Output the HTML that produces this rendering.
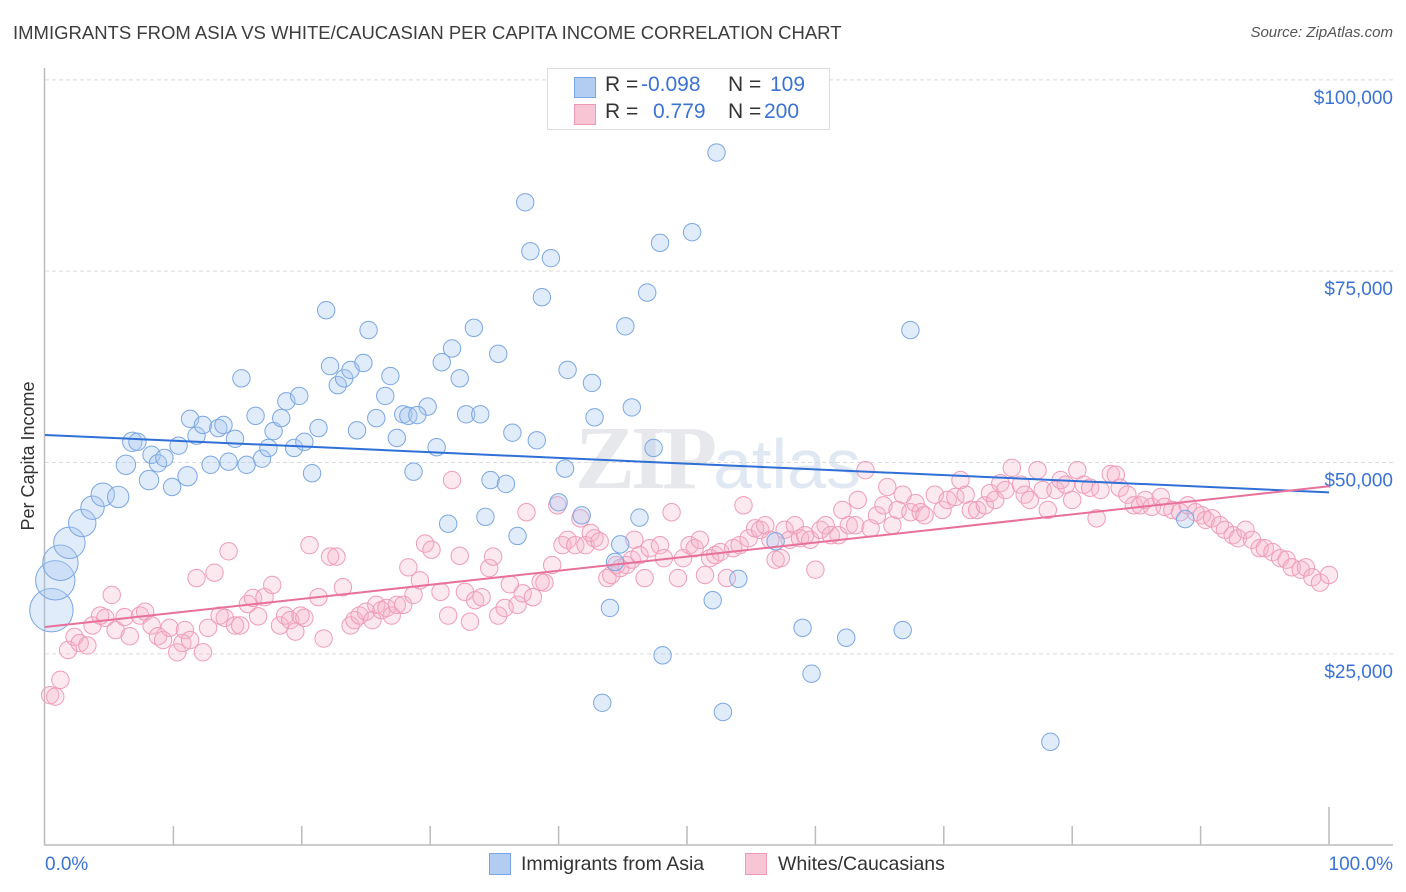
<!DOCTYPE html>
<html><head><meta charset="utf-8">
<style>
body{margin:0;background:#fff;font-family:"Liberation Sans",sans-serif;}
#wrap{position:relative;width:1406px;height:892px;overflow:hidden;}
.t{position:absolute;white-space:nowrap;}
</style></head>
<body>
<div id="wrap">
<div class="t" style="left:13px;top:22px;font-size:18.5px;color:#3d3d3d;">IMMIGRANTS FROM ASIA VS WHITE/CAUCASIAN PER CAPITA INCOME CORRELATION CHART</div>
<div class="t" style="right:13px;top:24px;font-size:15px;color:#555;font-style:italic">Source: ZipAtlas.com</div>
<svg id="svg" width="1406" height="892" style="position:absolute;left:0;top:0"></svg>
</div>
<script>
const yTicks=[25000,50000,75000,100000];
const yTickLabels=["$25,000","$50,000","$75,000","$100,000"];
const xTickLabels=["0.0%","100.0%"];
const blueX=[0.5,0.8,1.2,1.9,2.9,3.7,4.5,5.7,6.3,8.1,6.8,7.2,8.3,8.8,9.3,9.9,11.1,10.4,11.3,11.8,12.3,12.9,13.5,13.9,14.3,14.8,15.3,15.7,16.4,16.9,17.4,17.8,18.4,18.8,19.4,19.8,20.8,21.3,20.2,21.9,22.2,22.8,23.3,23.8,24.3,24.8,25.2,25.8,26.5,26.9,27.4,27.9,28.3,29.8,29.0,30.5,28.7,30.9,31.7,32.3,32.8,33.4,33.9,31.4,34.3,34.7,35.3,35.9,36.4,36.8,37.4,37.8,38.3,38.7,39.4,40.0,40.5,40.7,41.8,42.6,42.8,43.4,44.0,44.4,44.8,45.2,45.7,46.3,46.9,47.4,47.9,48.1,50.4,52.0,52.3,52.8,54.0,56.9,59.0,59.7,62.4,66.8,67.4,78.3,88.8];
const blueY=[30.7,34.6,36.9,39.5,42.1,44.1,45.8,45.5,49.7,47.7,52.7,52.7,51.0,49.9,50.6,46.8,48.2,52.2,55.7,53.5,54.9,49.7,54.5,54.9,50.1,53.1,61.0,49.7,56.1,50.5,51.9,54.1,55.8,58.0,51.9,58.7,48.6,54.5,52.7,69.9,62.6,60.1,61.0,62.1,54.2,63.0,67.3,55.8,58.7,61.3,53.2,56.3,56.1,57.3,56.2,52.0,48.8,63.1,64.9,61.0,56.3,67.6,56.3,42.0,42.9,47.7,64.2,47.2,53.9,40.4,84.0,77.6,52.9,71.6,76.7,44.8,49.2,62.1,43.1,60.4,55.9,18.6,31.0,37.0,39.3,67.8,57.2,42.8,72.2,51.9,78.7,24.8,80.1,32.0,90.5,17.4,34.8,39.7,28.4,22.4,27.1,28.1,67.3,13.5,42.6];
const blueR=[22,20,18,16,14,12,12,11,10,10,10,9,9,9,9,9,10,9,9,9,9,9,9,9,9,9,9,9,9,9,9,9,9,9,9,9,9,9,9,9,9,9,9,9,9,9,9,9,9,9,9,9,9,9,9,9,9,9,9,9,9,9,9,9,9,9,9,9,9,9,9,9,9,9,9,9,9,9,9,9,9,9,9,9,9,9,9,9,9,9,9,9,9,9,9,9,9,9,9,9,9,9,9,9,9];
const pinkX=[0.4,0.8,1.2,1.8,2.3,2.7,3.3,3.7,4.3,4.7,5.2,5.5,6.2,6.6,7.4,7.8,8.3,8.8,9.2,9.7,10.3,10.7,10.9,11.3,11.8,12.3,12.7,13.2,13.6,14.0,14.3,14.8,15.2,15.8,16.2,16.6,17.1,17.7,18.3,18.7,19.1,19.5,19.9,20.2,20.6,21.3,21.7,22.2,22.7,23.2,23.8,24.1,24.5,25.0,25.5,25.8,26.2,26.6,27.0,27.4,27.9,28.3,28.7,29.2,29.6,30.1,30.8,31.4,31.7,32.3,32.7,33.1,33.5,34.0,34.6,34.9,35.3,35.8,36.2,36.8,37.2,37.5,38.0,38.6,38.9,39.5,39.9,40.3,40.7,41.3,41.7,42.1,42.5,42.8,43.2,43.8,44.1,44.5,44.8,45.3,45.7,45.9,46.3,46.7,47.1,47.9,48.2,48.8,49.3,49.7,50.2,50.6,51.0,51.4,51.8,52.2,52.6,53.1,53.6,54.1,54.4,54.8,55.3,55.7,56.1,56.5,56.9,57.3,57.6,58.0,58.4,58.8,59.2,59.6,60.0,60.4,60.8,61.2,61.8,62.1,62.6,63.1,63.3,63.9,64.3,64.8,65.3,65.6,66.0,66.4,66.8,67.4,67.8,68.2,68.5,69.3,69.9,70.3,70.9,71.3,71.7,72.1,72.6,73.2,73.6,74.0,74.4,74.8,75.3,76.0,76.3,76.7,77.3,77.7,78.1,78.7,79.1,79.5,80.0,80.4,80.9,81.4,81.9,82.2,83.0,83.4,83.7,84.3,84.8,85.3,85.7,86.2,86.9,87.2,87.8,88.4,89.0,89.6,90.1,90.4,90.9,91.5,91.9,92.5,92.9,93.5,94.0,94.6,95.0,95.6,96.2,96.7,97.1,97.8,98.2,98.7,99.3,100.0];
const pinkY=[19.6,19.4,21.6,25.5,27.2,26.4,26.1,28.7,30.0,29.7,32.7,28.1,29.8,27.3,30.0,30.5,28.7,27.3,26.8,28.4,25.2,26.4,28.1,26.8,34.9,25.2,28.4,35.6,30.0,29.7,38.4,28.7,28.7,31.5,32.3,29.9,32.4,34.0,28.7,30.0,29.4,27.9,30.0,29.7,39.2,32.4,27.0,37.7,37.7,33.7,28.7,29.4,30.0,30.5,29.4,31.4,30.7,31.0,30.0,31.4,31.4,36.3,32.7,34.6,39.4,38.6,33.1,30.0,47.7,37.8,33.1,29.2,32.0,32.4,36.2,37.7,30.0,31.0,34.1,31.4,32.9,43.5,32.4,34.4,34.3,36.6,44.4,39.2,39.9,39.2,42.7,39.2,40.8,40.1,39.7,34.9,35.3,36.6,36.2,36.6,37.3,39.9,37.9,34.9,38.8,39.2,37.5,43.5,34.9,37.5,39.2,38.8,39.9,35.3,37.5,37.9,38.3,34.9,38.8,39.2,44.4,40.1,41.4,41.2,41.8,39.9,37.3,37.5,41.2,39.9,41.8,40.1,40.5,39.9,36.0,41.2,41.8,40.5,40.5,43.8,41.8,41.8,45.1,49.0,41.4,43.1,44.4,46.8,41.8,43.8,45.8,43.5,44.7,43.5,43.1,45.8,43.8,45.1,45.5,47.7,45.8,43.8,43.8,44.4,46.0,45.1,47.3,46.4,49.3,47.1,45.8,45.1,49.0,46.4,43.8,46.4,47.7,47.1,45.1,49.0,47.1,46.7,42.7,46.4,48.5,48.4,46.7,45.8,44.4,44.4,45.1,44.2,45.5,44.2,43.8,43.5,44.4,43.5,43.1,42.5,42.7,41.8,41.2,40.5,40.1,41.2,39.9,38.8,38.8,38.3,37.5,37.3,36.3,36.0,36.3,35.0,34.3,35.3];
const trendBlue=[53.6,46.1];
const trendPink=[28.5,46.9];

const NS="http://www.w3.org/2000/svg";
const svg=document.getElementById('svg');
const X0=45,X1=1329,Y50=462.5,PX_PER_K=7.653;
function xs(p){return X0+(X1-X0)*p/100;}
function ys(k){return Y50-(k-50)*PX_PER_K;}
function mk(tag,attrs,parent){const e=document.createElementNS(NS,tag);for(const k in attrs)e.setAttribute(k,attrs[k]);(parent||svg).appendChild(e);return e;}

const wm=mk('text',{x:718,y:488,'text-anchor':'middle','font-size':'90','font-family':'Liberation Serif, serif',fill:'#e6e8ec'});


wm.innerHTML='<tspan font-weight="bold" letter-spacing="-4">ZIP</tspan><tspan font-family="Liberation Sans, sans-serif" font-size="70" fill="#e0e8f3">atlas</tspan>';

yTicks.forEach((v,i)=>{
  const y=ys(v/1000);
  const g=mk('line',{x1:45,x2:1393,y1:y,y2:y,stroke:'#dadada','stroke-dasharray':'4,3','stroke-width':1});
  
  
  const t=mk('text',{x:1393,y:y+24,'text-anchor':'end','font-size':'19',fill:'#3b73d4','font-family':'Liberation Sans, sans-serif'});
  
  
  t.textContent=yTickLabels[i];
});
const ya=mk('line',{x1:44.5,x2:44.5,y1:68,y2:845,stroke:'#bbb','stroke-width':1.5});


const xa=mk('line',{x1:44,x2:1393,y1:845,y2:845,stroke:'#bbb','stroke-width':1.5});


for(let i=1;i<=10;i++){
  const x=xs(i*10);
  const tk=mk('line',{x1:x,x2:x,y1:i==10?807:826,y2:845,stroke:'#bbb','stroke-width':1.5});
  
  
}
const xl0=mk('text',{x:45,y:870,'font-size':'19',fill:'#3b73d4','font-family':'Liberation Sans, sans-serif'});


xl0.textContent=xTickLabels[0];
const xl1=mk('text',{x:1393,y:870,'text-anchor':'end','font-size':'19',fill:'#3b73d4','font-family':'Liberation Sans, sans-serif'});


xl1.textContent=xTickLabels[1];
const yt=mk('text',{x:34,y:456,'text-anchor':'middle','font-size':'18',fill:'#333',transform:'rotate(-90 34 456)','font-family':'Liberation Sans, sans-serif'});


yt.textContent='Per Capita Income';

pinkX.forEach((p,i)=>{
  const c=mk('circle',{cx:xs(p),cy:ys(pinkY[i]),r:8.7,fill:'rgba(246,180,202,0.3)',stroke:'#ef9cb9','stroke-width':1});
  
  
});
blueX.forEach((p,i)=>{
  const c=mk('circle',{cx:xs(p),cy:ys(blueY[i]),r:blueR[i]-0.3,fill:'rgba(170,200,240,0.35)',stroke:'#7ba7e3','stroke-width':1});
  
  
});
const tb=mk('line',{x1:xs(0),y1:ys(trendBlue[0]),x2:xs(100),y2:ys(trendBlue[1]),stroke:'#2f6fd6','stroke-width':2});


const tp=mk('line',{x1:xs(0),y1:ys(trendPink[0]),x2:xs(100),y2:ys(trendPink[1]),stroke:'#e8719b','stroke-width':2});


</script>

<div style="position:absolute;left:547px;top:68px;width:281px;height:60px;border:1px solid #ddd;background:#fff;font-size:21px;color:#333">
  <div style="position:absolute;left:26px;top:8px;height:20px;width:250px">
    <div style="position:absolute;left:0;top:0;width:20px;height:19px;background:#b3cdf2;border:1px solid #7aa6e4"></div>
    <span class="t" style="left:31px;top:-4px">R = </span><span class="t" style="left:67px;top:-4px;color:#3b73d4">-0.098</span>
    <span class="t" style="left:154px;top:-4px">N = </span><span class="t" style="left:196px;top:-4px;color:#3b73d4">109</span>
  </div>
  <div style="position:absolute;left:26px;top:35px;height:20px;width:250px">
    <div style="position:absolute;left:0;top:0;width:20px;height:19px;background:#f8c5d5;border:1px solid #ee9ab7"></div>
    <span class="t" style="left:31px;top:-4px">R = </span><span class="t" style="left:79px;top:-4px;color:#3b73d4">0.779</span>
    <span class="t" style="left:154px;top:-4px">N = </span><span class="t" style="left:190px;top:-4px;color:#3b73d4">200</span>
  </div>
</div>

<div style="position:absolute;left:0;top:850px;width:1406px;height:30px;font-size:19.5px;color:#333">
  <div style="position:absolute;left:489px;top:3px;width:20px;height:20px;background:#b3cdf2;border:1px solid #7aa6e4"></div>
  <span class="t" style="left:521px;top:3px">Immigrants from Asia</span>
  <div style="position:absolute;left:745px;top:3px;width:20px;height:20px;background:#f8c5d5;border:1px solid #ee9ab7"></div>
  <span class="t" style="left:778px;top:3px">Whites/Caucasians</span>
</div>
</body></html>
